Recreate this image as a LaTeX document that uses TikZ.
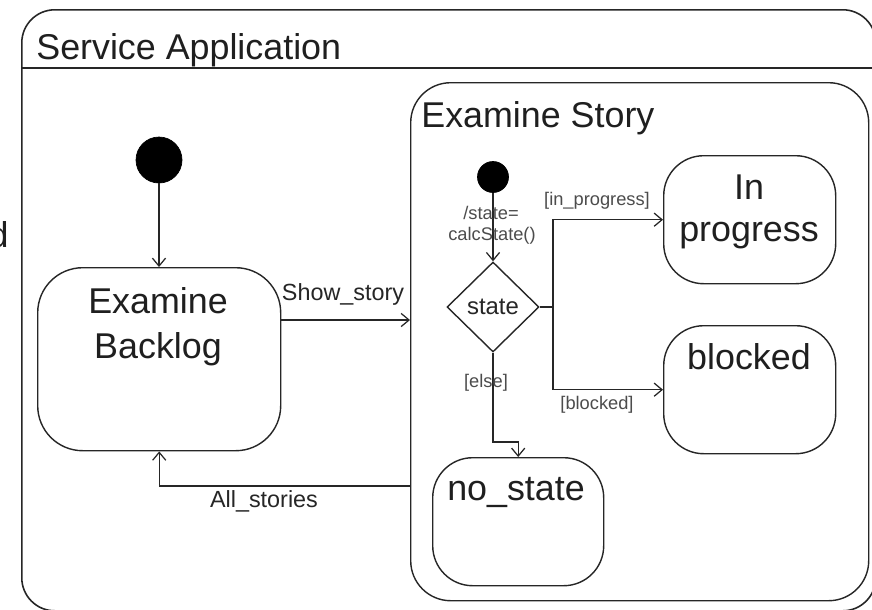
\documentclass[tikz,border=0pt]{standalone}
\usepackage{fontspec}
\setmainfont{Liberation Sans}
\usetikzlibrary{shapes.geometric,arrows.meta}

\tikzset{
  frame/.style={draw=black!85, line width=0.9pt, rectangle, inner sep=0pt, anchor=north west},
  statebox/.style={draw=black!85, line width=0.8pt, rectangle, inner sep=0pt,
    anchor=north west, rounded corners=0.8cm},
  initdot/.style={circle, fill=black, draw=black, inner sep=0pt},
  choice/.style={diamond, draw=black!85, line width=0.8pt, inner sep=0pt,
    minimum width=92*0.02cm, minimum height=90*0.02cm,
    font=\fontsize{13.6pt}{15pt}\selectfont, text=black!85},
  big/.style={font=\fontsize{20.4pt}{22pt}\selectfont, text=black!88, anchor=base, inner sep=0pt},
  mid/.style={font=\fontsize{13.3pt}{15pt}\selectfont, text=black!85, anchor=base, inner sep=0pt},
  small/.style={font=\fontsize{10.4pt}{12pt}\selectfont, text=black!70, anchor=base, inner sep=0pt},
  trans/.style={draw=black!85, line width=0.8pt,
    -{Straight Barb[length=4.5pt, width=7.5pt, line width=0.7pt]}},
}

\begin{document}
\begin{tikzpicture}[x=0.02cm, y=-0.02cm]
\useasboundingbox (0,0) rectangle (872,609);
\clip (0,0) rectangle (872,609);
\fill[white] (0,0) rectangle (872,609);

% outer composite state
\node[frame, rounded corners=0.66cm, minimum width=854*0.02cm, minimum height=601*0.02cm]
  (app) at (21,9) {};
\coordinate (sepL) at (21,68);
\coordinate (sepR) at (875,68);
\draw[draw=black!85, line width=0.9pt] (sepL) -- (sepR);
\node[big, anchor=base west] (apptitle) at (36,59) {Service Application};

% cut-off letter at the left border
\node[big, anchor=base east] (stray) at (9,247) {d};

% left region
\node[initdot, minimum size=46*0.02cm] (start1) at (159,160) {};
\node[statebox, rounded corners=0.9cm, minimum width=243*0.02cm, minimum height=183*0.02cm]
  (backlog) at (37,267) {};
\node[big] (backlogA) at (158,313) {Examine};
\node[big] (backlogB) at (158,358) {Backlog};

% nested composite state
\node[statebox, minimum width=458*0.02cm, minimum height=518*0.02cm]
  (story) at (410,82) {};
\node[big, anchor=base west] (storytitle) at (421,127) {Examine Story};

\node[initdot, minimum size=31*0.02cm] (start2) at (493,177) {};
\node[choice] (dec) at (493,307) {state};

\node[statebox, minimum width=172*0.02cm, minimum height=128*0.02cm]
  (inprog) at (663,155) {};
\node[big] (inprogA) at (749,199) {In};
\node[big] (inprogB) at (749,241) {progress};

\node[statebox, minimum width=172*0.02cm, minimum height=128*0.02cm]
  (blocked) at (663,325) {};
\node[big] (blockedT) at (749,369) {blocked};

\node[statebox, minimum width=171*0.02cm, minimum height=128*0.02cm]
  (nostate) at (432,457) {};
\node[big] (nostateT) at (516,500) {no\_state};

% helper points for the routed transitions
\coordinate (ss) at (0,320);
\coordinate (as) at (0,486);
\coordinate (branch) at (553,307);
\coordinate (elsebend) at (493,442);

% transitions
\draw[trans] (start1) -- (start1 |- backlog.north);
\draw[trans] (backlog.east |- ss) -- (story.west |- ss);
\draw[trans] (story.west |- as) -| (backlog.south);
\draw[trans] (start2) -- (dec.north);
\draw[draw=black!85, line width=0.8pt] (dec.east) -- (branch);
\draw[trans] (branch) |- (inprog.west);
\draw[trans] (branch) |- (blocked.west);
\draw[trans] (dec.south) -- (elsebend) -| (nostate.north);

% transition labels
\node[mid] (lshow) at (343,300) {Show\_story};
\node[mid] (lall) at (264,507) {All\_stories};
\node[small] (lcalcA) at (491,219) {/state=};
\node[small] (lcalcB) at (492,240) {calcState()};
\node[small] (lprog) at (597,205) {[in\_progress]};
\node[small] (lblock) at (597,409) {[blocked]};
\node[small] (lelse) at (486,387) {[else]};
\end{tikzpicture}
\end{document}
